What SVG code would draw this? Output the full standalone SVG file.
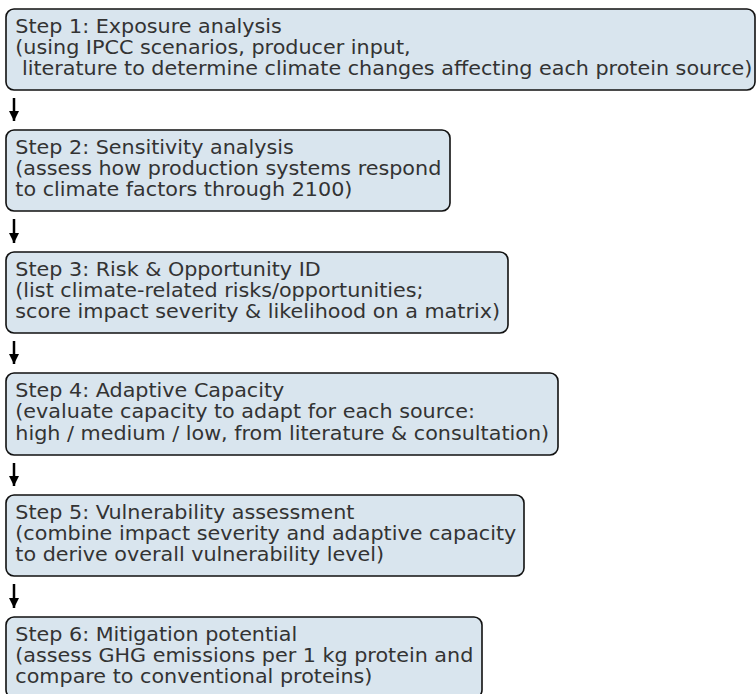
<svg xmlns="http://www.w3.org/2000/svg" width="756" height="694" viewBox="0 0 756 694">
  <defs>
    <style>
      .box { fill: #d9e5ee; stroke: #111; stroke-width: 1.6; }
      .lbl { font-family: "DejaVu Sans", sans-serif; font-size: 19px; fill: #333; }
      .link { stroke: #000; stroke-width: 2.5; fill: none; marker-end: url(#head); }
    </style>
    <marker id="head" viewBox="0 0 10 10" refX="10" refY="5" markerWidth="10" markerHeight="10" markerUnits="userSpaceOnUse" orient="auto">
      <path d="M0,0 L10,5 L0,10 Z" fill="#000"/>
    </marker>
  </defs>
  <rect width="756" height="694" fill="#fff"/>

  <g id="connectors">
    <line class="link" x1="14" y1="98" x2="14" y2="121"/>
    <line class="link" x1="14" y1="219" x2="14" y2="243"/>
    <line class="link" x1="14" y1="341" x2="14" y2="364"/>
    <line class="link" x1="14" y1="463" x2="14" y2="486"/>
    <line class="link" x1="14" y1="584" x2="14" y2="608"/>
  </g>

  <g id="step1">
    <rect class="box" x="6" y="9" width="749" height="81" rx="8"/>
    <g transform="translate(15.3,0) scale(1.09,1)">
      <text class="lbl" x="0" y="33">Step 1: Exposure analysis</text>
      <text class="lbl" x="0" y="54">(using IPCC scenarios, producer input,</text>
      <text class="lbl" x="0" y="75" xml:space="preserve"> literature to determine climate changes affecting each protein source)</text>
    </g>
  </g>

  <g id="step2">
    <rect class="box" x="6" y="130" width="444" height="81" rx="8"/>
    <g transform="translate(15.3,0) scale(1.09,1)">
      <text class="lbl" x="0" y="154.5">Step 2: Sensitivity analysis</text>
      <text class="lbl" x="0" y="175.5">(assess how production systems respond</text>
      <text class="lbl" x="0" y="196.5">to climate factors through 2100)</text>
    </g>
  </g>

  <g id="step3">
    <rect class="box" x="6" y="252" width="502" height="81" rx="8"/>
    <g transform="translate(15.3,0) scale(1.09,1)">
      <text class="lbl" x="0" y="276">Step 3: Risk &amp; Opportunity ID</text>
      <text class="lbl" x="0" y="297">(list climate-related risks/opportunities;</text>
      <text class="lbl" x="0" y="318">score impact severity &amp; likelihood on a matrix)</text>
    </g>
  </g>

  <g id="step4">
    <rect class="box" x="6" y="373" width="552" height="82" rx="8"/>
    <g transform="translate(15.3,0) scale(1.09,1)">
      <text class="lbl" x="0" y="397.5">Step 4: Adaptive Capacity</text>
      <text class="lbl" x="0" y="418.5">(evaluate capacity to adapt for each source:</text>
      <text class="lbl" x="0" y="439.5">high / medium / low, from literature &amp; consultation)</text>
    </g>
  </g>

  <g id="step5">
    <rect class="box" x="6" y="495" width="518" height="81" rx="8"/>
    <g transform="translate(15.3,0) scale(1.09,1)">
      <text class="lbl" x="0" y="519">Step 5: Vulnerability assessment</text>
      <text class="lbl" x="0" y="540">(combine impact severity and adaptive capacity</text>
      <text class="lbl" x="0" y="561">to derive overall vulnerability level)</text>
    </g>
  </g>

  <g id="step6">
    <rect class="box" x="6" y="617" width="476" height="81" rx="8"/>
    <g transform="translate(15.3,0) scale(1.09,1)">
      <text class="lbl" x="0" y="641">Step 6: Mitigation potential</text>
      <text class="lbl" x="0" y="662">(assess GHG emissions per 1 kg protein and</text>
      <text class="lbl" x="0" y="683">compare to conventional proteins)</text>
    </g>
  </g>
</svg>
